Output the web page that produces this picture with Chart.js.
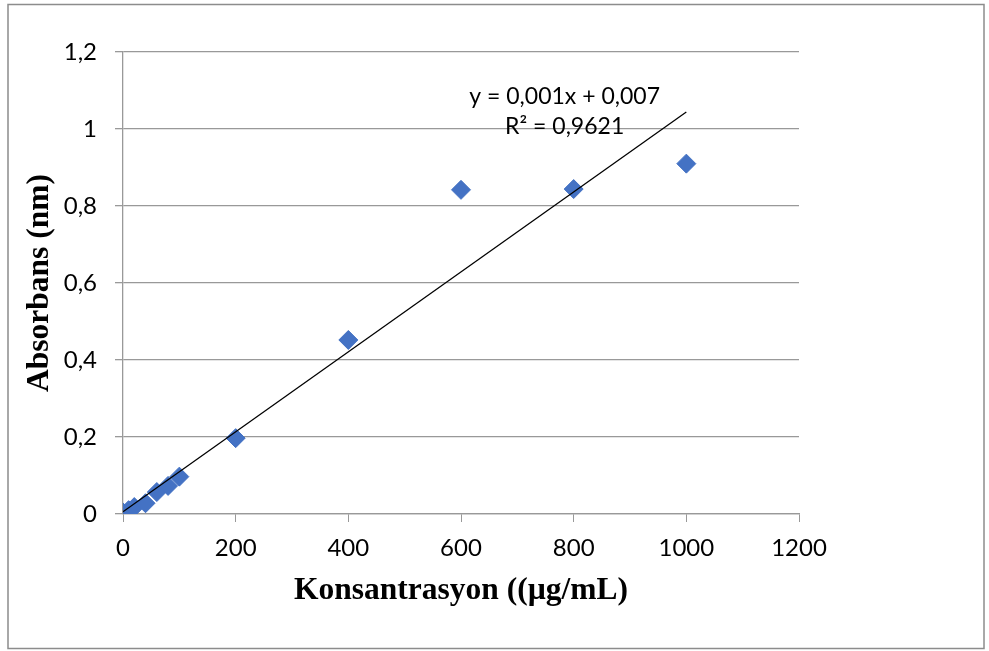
<!DOCTYPE html>
<html>
<head>
<meta charset="utf-8">
<script src="https://cdn.jsdelivr.net/npm/chart.js@4/dist/chart.umd.min.js"></script>
<style>
    body { margin: 0; background: #ffffff; }
    #wrap { position: relative; width: 989px; height: 651px; }
</style>
</head>
<body>
<div id="wrap"><canvas id="calChart" width="989" height="651"></canvas></div>
<script>
// Calibration data (concentration vs absorbance)
const concentrations = [0, 10, 20, 40, 60, 80, 100, 200, 400, 600, 800, 1000];
const absorbances = [0.004, 0.01, 0.018, 0.028, 0.057, 0.073, 0.097, 0.197, 0.452, 0.842, 0.844, 0.91];

// Trendline end points as drawn in the picture
const trendX = [0, 1000];
const trendY = [0.006, 1.044];

const equationLines = ['y = 0,001x + 0,007', 'R² = 0,9621'];
const equationAt = { x: 784, y: [1.083, 1.005] };

const xTitle = 'Konsantrasyon ((µg/mL)';
const yTitle = 'Absorbans (nm)';

function commaNumber(v) {
    const r = Math.round(v * 10) / 10;
    return r.toString().replace('.', ',');
}

// Outer frame and trendline label
const framePlugin = {
    id: 'framePlugin',
    beforeDraw(chart) {
        const ctx = chart.ctx;
        ctx.save();
        ctx.fillStyle = '#ffffff';
        ctx.fillRect(0, 0, chart.width, chart.height);
        ctx.strokeStyle = '#8c8c8c';
        ctx.lineWidth = 1.5;
        ctx.strokeRect(8, 4.5, 976, 644);
        ctx.restore();
    },
    afterDraw(chart) {
        const ctx = chart.ctx;
        const xs = chart.scales.x;
        const ys = chart.scales.y;
        ctx.save();
        ctx.fillStyle = '#000000';
        ctx.font = '23px Lato';
        ctx.textAlign = 'center';
        ctx.textBaseline = 'middle';
        equationLines.forEach((line, i) => {
            ctx.fillText(line, xs.getPixelForValue(equationAt.x), ys.getPixelForValue(equationAt.y[i]));
        });
        ctx.restore();
    }
};

const points = concentrations.map((c, i) => ({ x: c, y: absorbances[i] }));
const trend = trendX.map((c, i) => ({ x: c, y: trendY[i] }));

new Chart(document.getElementById('calChart'), {
    type: 'scatter',
    data: {
        datasets: [
            {
                type: 'line',
                label: 'Trend',
                data: trend,
                borderColor: '#000000',
                borderWidth: 1.3,
                pointRadius: 0,
                fill: false,
                order: 0
            },
            {
                label: 'Absorbans',
                data: points,
                pointStyle: 'rectRot',
                pointRadius: 9.5,
                pointHoverRadius: 9.5,
                backgroundColor: '#4472C4',
                borderColor: '#4472C4',
                borderWidth: 1,
                order: 1
            }
        ]
    },
    options: {
        responsive: false,
        devicePixelRatio: 1,
        animation: false,
        layout: {
            padding: { top: 52, right: 190, left: 0, bottom: 0 }
        },
        plugins: {
            legend: { display: false },
            tooltip: { enabled: false }
        },
        scales: {
            x: {
                type: 'linear',
                min: 0,
                max: 1200,
                afterFit(scale) { scale.height = 137; },
                ticks: {
                    stepSize: 200,
                    color: '#000000',
                    padding: 12,
                    maxRotation: 0,
                    font: { family: 'Lato', size: 24 },
                    callback: function(value) { return String(value); }
                },
                grid: {
                    drawOnChartArea: false,
                    drawTicks: true,
                    tickLength: 8,
                    color: '#999999'
                },
                border: { color: '#999999', width: 1.3 },
                title: {
                    display: true,
                    text: xTitle,
                    color: '#000000',
                    padding: { top: 0, bottom: 41 },
                    font: { family: 'Liberation Serif', size: 31.5, weight: 'bold' }
                }
            },
            y: {
                type: 'linear',
                min: 0,
                max: 1.2,
                afterFit(scale) { scale.width = 123; },
                ticks: {
                    stepSize: 0.2,
                    color: '#000000',
                    padding: 18,
                    font: { family: 'Lato', size: 24 },
                    callback: function(value) { return commaNumber(value); }
                },
                grid: {
                    drawTicks: true,
                    tickLength: 8,
                    color: '#999999',
                    lineWidth: 1.3
                },
                border: { color: '#999999', width: 1.3 },
                title: {
                    display: true,
                    text: yTitle,
                    color: '#000000',
                    padding: { top: 21, bottom: 0 },
                    font: { family: 'Liberation Serif', size: 31.5, weight: 'bold' }
                }
            }
        }
    },
    plugins: [framePlugin]
});
</script>
</body>
</html>
